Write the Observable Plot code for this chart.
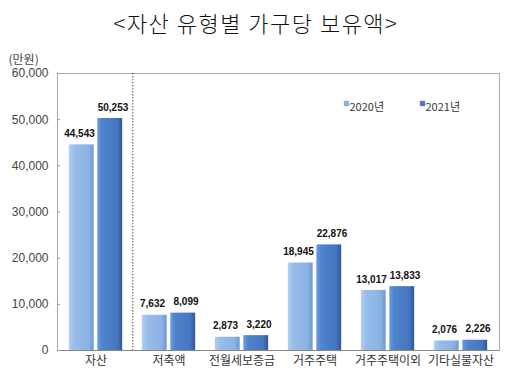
<!DOCTYPE html>
<html><head><meta charset="utf-8">
<script src="https://cdn.jsdelivr.net/npm/d3@7"></script>
<script src="https://cdn.jsdelivr.net/npm/@observablehq/plot@0.6"></script>
<style>
body{margin:0;background:#fff;font-family:"Liberation Sans",Arial,sans-serif;}
#title{height:40px;line-height:44px;text-align:center;font-size:22px;font-weight:300;color:#111;font-family:"Noto Sans CJK KR","Liberation Sans",sans-serif;letter-spacing:1.5px;}
</style></head>
<body>
<div id="title">&lt;자산 유형별 가구당 보유액&gt;</div>
<div id="chart"></div>
<script>
const categories = ["자산","저축액","전월세보증금","거주주택","거주주택이외","기타실물자산"];
const years = ["2020년","2021년"];
const values2020 = [44543, 7632, 2873, 18945, 13017, 2076];
const values2021 = [50253, 8099, 3220, 22876, 13833, 2226];
const yTicks = [0,10000,20000,30000,40000,50000,60000];

const rows2020 = categories.map((c,i)=>({category:c, year:years[0], value:values2020[i]}));
const rows2021 = categories.map((c,i)=>({category:c, year:years[1], value:values2021[i]}));

const W = 512, H = 344, mL = 57, mR = 13, mT = 33, mB = 34;
const bw = (W - mL - mR) / categories.length;
const half = 27, gap = 1.5;
const outer = bw/2 - half, inner = bw/2 + gap;
const fmt = d3.format(",d");

const defs = () => {
  const d = d3.create("svg:defs");
  const g1 = d.append("linearGradient").attr("id","g2020").attr("x1","0").attr("x2","1").attr("y1","0").attr("y2","0");
  g1.append("stop").attr("offset","0%").attr("stop-color","#b3d0f2");
  g1.append("stop").attr("offset","20%").attr("stop-color","#99bdea");
  g1.append("stop").attr("offset","80%").attr("stop-color","#8ab2e4");
  g1.append("stop").attr("offset","100%").attr("stop-color","#6d97cf");
  const g2 = d.append("linearGradient").attr("id","g2021").attr("x1","0").attr("x2","1").attr("y1","0").attr("y2","0");
  g2.append("stop").attr("offset","0%").attr("stop-color","#6b9be0");
  g2.append("stop").attr("offset","20%").attr("stop-color","#4f83cc");
  g2.append("stop").attr("offset","80%").attr("stop-color","#4576c0");
  g2.append("stop").attr("offset","100%").attr("stop-color","#2d5798");
  return d.node();
};

const chart = Plot.plot({
  width: W, height: H,
  marginLeft: mL, marginRight: mR, marginTop: mT, marginBottom: mB,
  style: {fontFamily: "'Liberation Sans', Arial, sans-serif", background: "#fff", color: "#333"},
  x: {domain: categories, padding: 0, label: null},
  y: {domain: [0, 60000], ticks: yTicks, label: null},
  marks: [
    defs,
    Plot.frame({stroke: "#a8a8a8", strokeWidth: 1}),
    Plot.ruleX([categories[0]], {dx: bw/2, stroke: "#555", strokeDasharray: "1.5,1.5", strokeWidth: 1}),
    Plot.barY(rows2020, {x: "category", y: "value", fill: "url(#g2020)", insetLeft: outer, insetRight: inner}),
    Plot.barY(rows2021, {x: "category", y: "value", fill: "url(#g2021)", insetLeft: inner, insetRight: outer}),
    Plot.text(rows2020, {x: "category", y: "value", text: d => fmt(d.value), dx: -16.5, dy: -11, fontWeight: "bold", fontSize: 10, fill: "#111"}),
    Plot.text(rows2021, {x: "category", y: "value", text: d => fmt(d.value), dx: 17, dy: -11, fontWeight: "bold", fontSize: 10, fill: "#111"}),
    Plot.ruleY([0], {stroke: "#888"}),
    Plot.axisY({ticks: yTicks, tickFormat: fmt, tickSize: 0, tickPadding: 9, fontSize: 12, anchor: "left", fill: "#444"}),
    Plot.axisY({ticks: yTicks, tickSize: -3, tickFormat: () => "", anchor: "left", stroke: "#999"}),
    Plot.axisX({tickSize: 0, tickPadding: 6, fontSize: 12, fill: "#333", fontFamily: "'Noto Sans CJK KR', sans-serif"}),
    Plot.text(["(만원)"], {frameAnchor: "top-left", dx: -49, dy: -18, textAnchor: "start", fontSize: 12, fill: "#444", fontFamily: "'Noto Sans CJK KR', sans-serif"}),
    Plot.dot([years[0]], {frameAnchor: "top-left", dx: 289, dy: 30, symbol: "square", r: 2.6, fill: "#8ab2e4", stroke: "#6d97cf", strokeWidth: 0.5}),
    Plot.text([years[0]], {frameAnchor: "top-left", dx: 292, dy: 30, textAnchor: "start", fontSize: 11, fill: "#333", fontFamily: "'Noto Sans CJK KR', sans-serif"}),
    Plot.dot([years[1]], {frameAnchor: "top-left", dx: 365, dy: 30, symbol: "square", r: 2.6, fill: "#4576c0", stroke: "#2d5798", strokeWidth: 0.5}),
    Plot.text([years[1]], {frameAnchor: "top-left", dx: 368, dy: 30, textAnchor: "start", fontSize: 11, fill: "#333", fontFamily: "'Noto Sans CJK KR', sans-serif"})
  ]
});
document.getElementById("chart").appendChild(chart);
</script>
</body></html>
